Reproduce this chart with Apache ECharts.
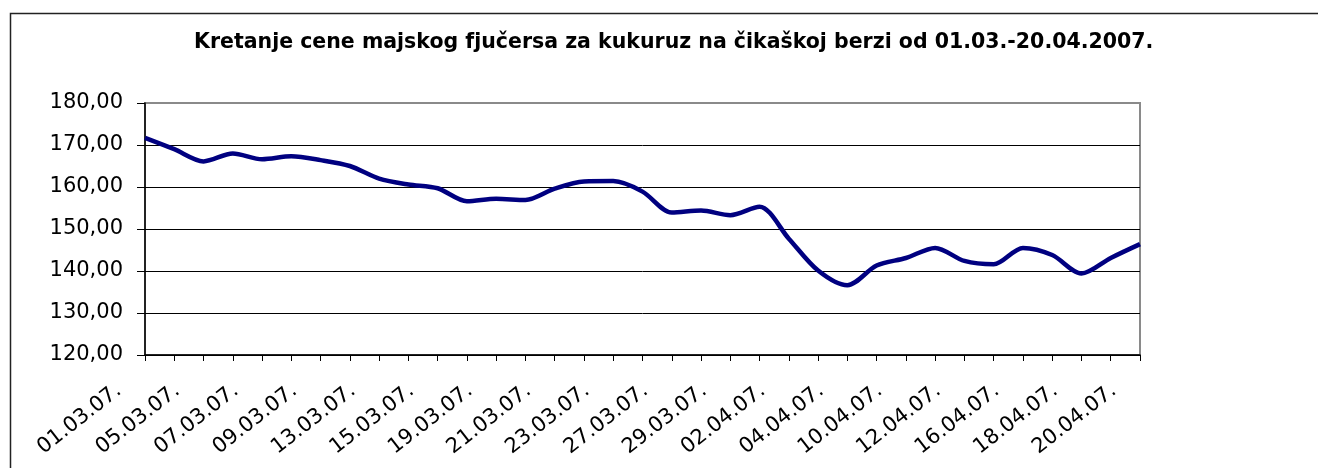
<!DOCTYPE html>
<html>
<head>
<meta charset="utf-8">
<script src="https://cdn.jsdelivr.net/npm/echarts@6/dist/echarts.min.js"></script>
<style>
html,body{margin:0;padding:0;background:#fff;}
#chart{width:1318px;height:468px;}
</style>
</head>
<body>
<div id="chart"></div>
<script>
var titleText = 'Kretanje cene majskog fjučersa za kukuruz na čikaškoj berzi od 01.03.-20.04.2007.';
var dates = ['01.03.07.','02.03.07.','05.03.07.','06.03.07.','07.03.07.','08.03.07.','09.03.07.','12.03.07.','13.03.07.','14.03.07.',
  '15.03.07.','16.03.07.','19.03.07.','20.03.07.','21.03.07.','22.03.07.','23.03.07.','26.03.07.','27.03.07.','28.03.07.',
  '29.03.07.','30.03.07.','02.04.07.','03.04.07.','04.04.07.','05.04.07.','10.04.07.','11.04.07.','12.04.07.','13.04.07.',
  '16.04.07.','17.04.07.','18.04.07.','19.04.07.','20.04.07.'];
var prices = [171.7,169.0,166.1,168.0,166.6,167.3,166.4,165.0,162.0,160.6,
  159.7,156.6,157.2,156.9,159.6,161.3,161.4,158.9,153.9,154.4,
  153.3,155.3,147.7,140.1,136.6,141.3,143.1,145.5,142.4,141.6,
  145.5,143.8,139.4,143.1,146.4];
var yMin = 120, yMax = 180, yStep = 10;

var chart = echarts.init(document.getElementById('chart'), null, {renderer:'canvas'});
chart.setOption({
  animation:false,
  backgroundColor:'#fff',
  title:{
    text:titleText, left:189, top:27,
    textStyle:{fontFamily:'DejaVu Sans', fontWeight:'bold', fontSize:20.5, color:'#000'}
  },
  graphic:[{
    type:'rect', left:8, top:11, z:-1,
    shape:{width:1330, height:480},
    style:{fill:'none', stroke:'#222', lineWidth:1.5}
  }],
  grid:{left:145, right:178, top:103, bottom:113, show:true, borderColor:'#8a8a8a', borderWidth:2},
  xAxis:{
    type:'category', data:dates, boundaryGap:false,
    axisLine:{lineStyle:{color:'#000', width:1.5}},
    axisTick:{show:true, inside:false, length:6, interval:0, lineStyle:{color:'#000'}},
    axisLabel:{interval:1, rotate:38, margin:13, padding:[0,33,0,0],
      fontFamily:'DejaVu Sans', fontSize:21, color:'#000'},
    splitLine:{show:false}
  },
  yAxis:{
    type:'value', min:yMin, max:yMax, interval:yStep,
    axisLine:{show:true, lineStyle:{color:'#000', width:1.5}},
    axisTick:{show:true, length:8, lineStyle:{color:'#000'}},
    axisLabel:{margin:22, fontFamily:'DejaVu Sans', fontSize:21, color:'#000',
      formatter:function(v){return v.toFixed(2).replace('.', ',');}},
    splitLine:{show:true, lineStyle:{color:['#000','#000','#000','#000','#000','#000','#8a8a8a'], width:1}}
  },
  series:[{
    type:'line', data:prices, smooth:0.3, symbol:'none',
    lineStyle:{color:'#000080', width:4.5}
  }]
});
</script>
</body>
</html>
